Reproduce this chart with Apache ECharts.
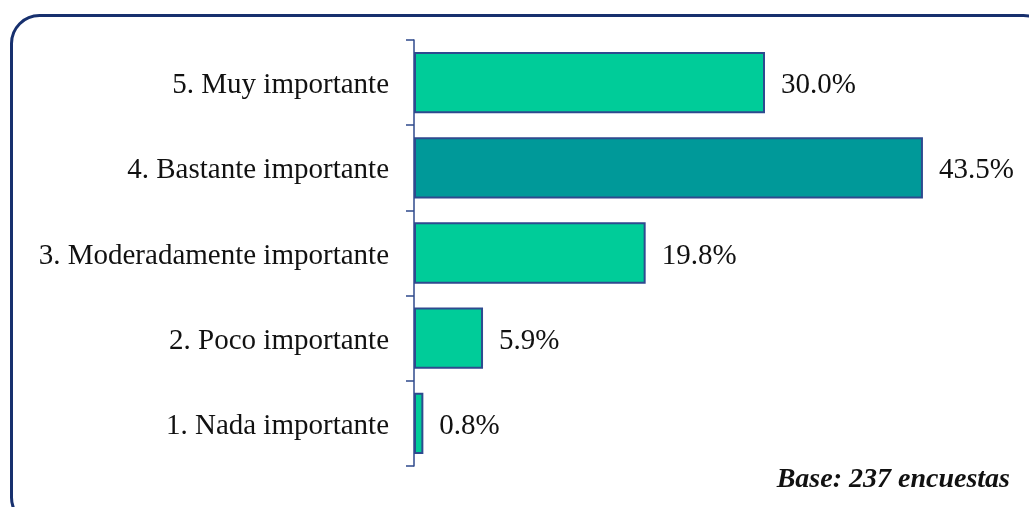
<!DOCTYPE html>
<html>
<head>
<meta charset="utf-8">
<script src="https://cdn.jsdelivr.net/npm/echarts@6/dist/echarts.min.js"></script>
<style>html,body{margin:0;padding:0;background:#fff;}#c{width:1029px;height:507px;}</style>
</head>
<body>
<div id="c"></div>
<script>
const categories = ["5. Muy importante", "4. Bastante importante", "3. Moderadamente importante", "2. Poco importante", "1. Nada importante"];
const values = [30.0, 43.5, 19.8, 5.9, 0.8];
const highlightIndex = 1;
const baseNote = "Base: 237 encuestas";

const chart = echarts.init(document.getElementById('c'), null, {renderer: 'canvas'});
const serif = '"Liberation Serif", "Times New Roman", serif';
chart.setOption({
  animation: false,
  backgroundColor: '#ffffff',
  grid: {left: 414, right: 30, top: 40, bottom: 41, containLabel: false},
  xAxis: {type: 'value', min: 0, max: 50, show: false},
  yAxis: {
    type: 'category', data: categories, inverse: true,
    axisLine: {show: true, lineStyle: {color: '#2F4A8C', width: 1.5}},
    axisTick: {show: true, length: 8, lineStyle: {color: '#2F4A8C', width: 1.5}},
    axisLabel: {
      margin: 25, color: '#111', fontFamily: serif, fontSize: 29,
      formatter: v => '{a|' + v + '}',
      rich: {a: {color: '#111', fontFamily: serif, fontSize: 29, padding: [6, 0, 0, 0]}}
    }
  },
  series: [{
    type: 'bar',
    data: values.map((v, i) => ({value: v, itemStyle: {color: i === highlightIndex ? '#009999' : '#00CC99'}})),
    barCategoryGap: '28%',
    itemStyle: {borderColor: '#2E4A8F', borderWidth: 2},
    label: {show: true, position: 'right', distance: 16, offset: [0, 3], formatter: p => p.value.toFixed(1) + '%', color: '#111', fontFamily: serif, fontSize: 29}
  }],
  graphic: [
    {type: 'rect', shape: {x: 11.5, y: 15.5, width: 1040, height: 510, r: 28}, style: {fill: 'none', stroke: '#17306E', lineWidth: 3}, z: 100},
    {type: 'text', x: 1010, y: 480, style: {text: baseNote, font: 'italic bold 28px ' + serif, fill: '#111', textAlign: 'right', textVerticalAlign: 'middle'}, z: 100}
  ]
});
</script>
</body>
</html>
